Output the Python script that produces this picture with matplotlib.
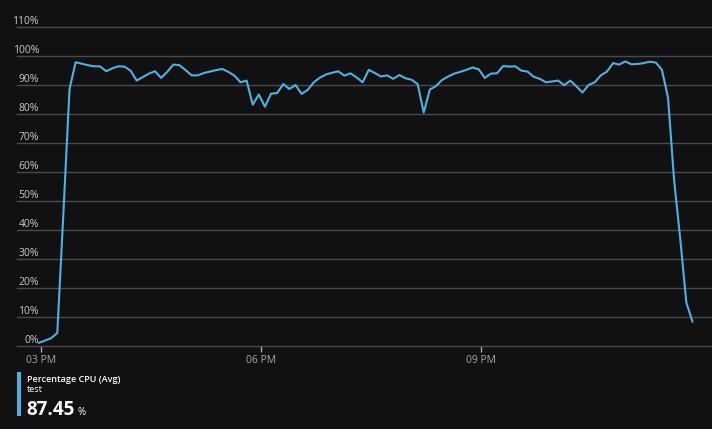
import matplotlib
matplotlib.use('Agg')
import matplotlib.pyplot as plt
from matplotlib.patches import Rectangle
import pandas as pd

# CPU % readings, 5 minute grain, first sample at 14:58
start = '2023-01-01 14:58'
cpu = [1.2, 2.0, 2.8, 4.6, 46.0, 88.5, 97.7, 97.2, 96.7, 96.3,
       96.3, 94.6, 95.6, 96.3, 96.2, 94.8, 91.4, 92.6, 93.8, 94.6,
       92.3, 94.4, 96.9, 96.7, 95.0, 93.2, 93.2, 94.0, 94.5, 95.0,
       95.4, 94.4, 93.1, 90.8, 91.4, 83.1, 86.6, 82.4, 86.9, 87.1,
       90.2, 88.5, 89.9, 86.8, 88.2, 90.8, 92.4, 93.5, 94.1, 94.6,
       93.1, 93.9, 92.5, 90.8, 95.1, 94.0, 92.8, 93.2, 92.0, 93.3,
       92.2, 91.7, 90.2, 80.4, 88.3, 89.5, 91.6, 92.8, 93.8, 94.4,
       95.1, 95.9, 95.3, 92.3, 93.8, 93.9, 96.4, 96.2, 96.3, 94.8,
       94.5, 92.7, 92.0, 90.8, 91.1, 91.4, 89.8, 91.4, 89.4, 87.3,
       89.9, 90.8, 93.2, 94.5, 97.4, 96.9, 98.0, 97.0, 97.1, 97.4,
       97.9, 97.6, 95.1, 85.5, 57.0, 37.0, 15.0, 8.5]
times = pd.date_range(start, periods=len(cpu), freq='5min')

yticks = [0, 10, 20, 30, 40, 50, 60, 70, 80, 90, 100, 110]
ylabels = ['%d%%' % v for v in yticks]
xticks = pd.to_datetime(['2023-01-01 15:00', '2023-01-01 18:00', '2023-01-01 21:00'])
xlabels = ['03 PM', '06 PM', '09 PM']

metric = 'Percentage CPU (Avg)'
resource = 'test'
avg = '87.45'

bg = '#111111'
blue = '#4ab3e6'
W, H = 712, 429

fig = plt.figure(figsize=(W/100, H/100), dpi=100, facecolor=bg)
ax = fig.add_axes([17/W, (H-346.3)/H, 1-17/W, (346.3-26.5)/H], facecolor=bg)
plt.rcParams['font.family'] = ['Open Sans', 'DejaVu Sans']

ax.plot(times, cpu, color=blue, lw=1.5, solid_joinstyle='round', zorder=3)

ax.set_ylim(0, 110)
ax.set_xlim(pd.Timestamp('2023-01-01 14:40'), pd.Timestamp('2023-01-02 00:09'))

for s in ax.spines.values():
    s.set_visible(False)

ax.set_yticks(yticks)
ax.set_yticklabels(ylabels, fontsize=7.5, color='#c8c8c8', family='Open Sans')
ax.tick_params(axis='y', length=0, pad=-15.8)
for lab in ax.get_yticklabels():
    lab.set_verticalalignment('bottom')
ax.yaxis.grid(True, color='#4a4a4a', lw=1)
for gl in ax.get_ygridlines():
    gl.set_clip_on(False)
ax.set_axisbelow(True)

ax.set_xticks(xticks)
ax.set_xticklabels(xlabels, fontsize=7.5, color='#a8a8a8', family='Open Sans')
ax.tick_params(axis='x', length=4, width=1, color='#a8a8a8', pad=2)

# legend block
fig.patches.append(Rectangle((17/W, (H-415.7)/H), 4.4/W, 44/H, transform=fig.transFigure,
                             facecolor=blue, edgecolor='none'))
fig.text(27/W, (H-379)/H, metric, color='white', fontsize=6.5, fontweight='semibold',
         va='center', ha='left', family='Open Sans')
fig.text(27/W, (H-390)/H, resource, color='white', fontsize=6.5,
         va='center', ha='left', family='Open Sans')
fig.text(26/W, (H-415)/H, avg, color='white', fontsize=13.5, fontweight='bold',
         va='baseline', ha='left', family='Open Sans')
fig.text(77/W, (H-415)/H, '%', color='white', fontsize=7,
         va='baseline', ha='left', family='Open Sans')

fig.savefig('out.png', dpi=100, facecolor=bg)
